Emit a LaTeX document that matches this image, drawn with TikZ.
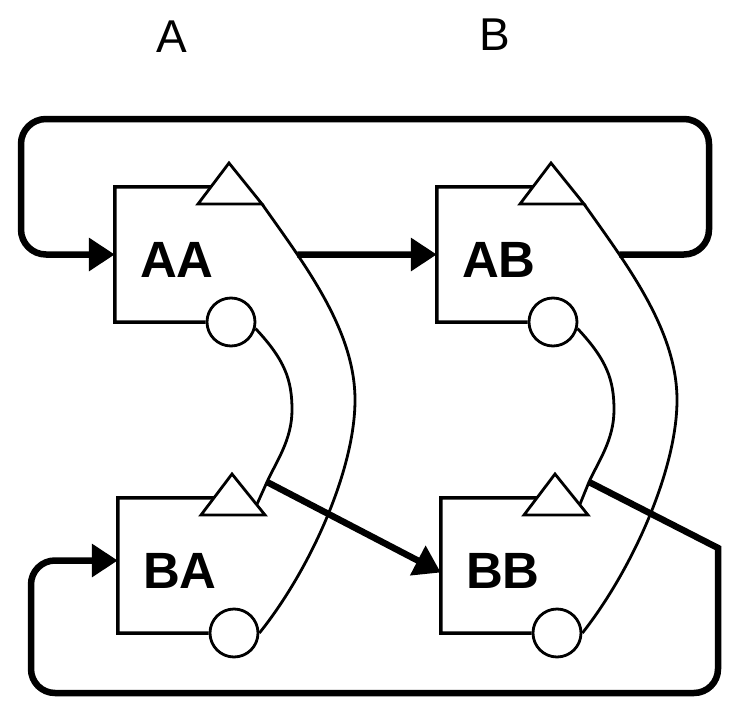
\documentclass[tikz,border=0pt]{standalone}
\usepackage{fontspec}
\setmainfont{Liberation Sans}
\usetikzlibrary{arrows.meta,calc,intersections}
\newcommand\cellunit[3]{%
  \node[cellbox] (#1) at (#2+62,#3+67.5) {#1};
  \coordinate (t#1l) at (#2+83,#3+17);
  \coordinate (t#1a) at (#2+114,#3-24);
  \coordinate (t#1r) at (#2+147,#3+17);
  \node[port] (c#1) at (#2+116,#3+135) {};
  \draw[bandline,line join=miter] (t#1l) -- (t#1a) -- (t#1r) -- cycle;
  \draw[boxline] ($(t#1l)!0.415!(t#1a)$) -- (#1.north west) -- (#1.south west) -- (c#1.west);
}
\begin{document}
\begin{tikzpicture}[x=1pt,y=-1pt,
  boxline/.style={line width=3.5pt},
  bandline/.style={line width=2.8pt},
  flow/.style={line width=6.5pt},
  flowarrow/.style={flow,-{Triangle[length=26pt,width=32pt]}},
  cellbox/.style={minimum width=124pt,minimum height=135pt,inner sep=0pt,
    font=\fontsize{51}{60}\selectfont\bfseries,text height=45pt,text depth=0pt},
  toplabel/.style={inner sep=0pt,font=\fontsize{46}{50}\selectfont,text height=33pt,text depth=0pt},
  port/.style={circle,draw,line width=2.8pt,minimum size=48pt,inner sep=0pt}]
\useasboundingbox (0,0) rectangle (737,715);

\node[toplabel] (colA) at (172,36) {A};
\node[toplabel] (colB) at (495,34) {B};

\cellunit{AA}{115}{187}
\cellunit{AB}{437}{187}
\cellunit{BA}{118}{498}
\cellunit{BB}{441}{498}

\coordinate (jA) at (267,482);
\coordinate (jB) at (589,482);

% bands
\draw[bandline,name path=oA] (tAAr) .. controls (305,265) and (355,330) .. (355,400)
  .. controls (355,470) and (310,570) .. (cBA.east);
\draw[bandline,name path=oB] (tABr) .. controls (627,265) and (677,330) .. (677,400)
  .. controls (677,470) and (632,570) .. (cBB.east);
\draw[bandline] (cAA.-15) .. controls (285,360) and (292,380) .. (292,410)
  .. controls (292,440) and (276,462) .. (jA) -- ($(tBAa)!0.75!(tBAr)$);
\draw[bandline] (cAB.-15) .. controls (607,360) and (614,380) .. (614,410)
  .. controls (614,440) and (598,462) .. (jB) -- ($(tBBa)!0.75!(tBBr)$);

% flows
\path[name path=hA] (AB.west) -- ++(-200,0);
\path[name intersections={of=oA and hA,by=pA}];
\path[name path=hB] (AB.west) -- ++(299,0);
\path[name intersections={of=oB and hB,by=pB}];

\draw[flowarrow] (pA) -- (AB.west);
\draw[flowarrow,rounded corners=25pt] (pB) -- (709,254.5) -- (709,119) -- (21,119) |- (AA.west);
\draw[flowarrow] (jA) -- ([yshift=-7pt]BB.west);
\draw[flowarrow] (jB) -- (718,548) -- (718,560) [rounded corners=24pt] -- (718,693) -- (31,693) |- ([yshift=5pt]BA.west);
\end{tikzpicture}
\end{document}
